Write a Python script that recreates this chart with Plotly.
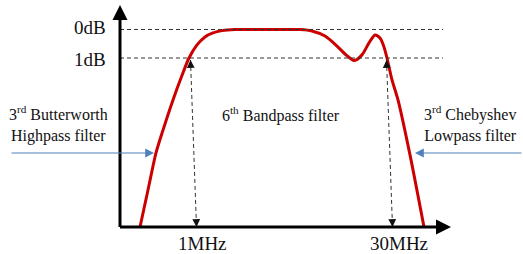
import plotly.graph_objects as go

# ---- data ----
curve_pos = [140, 148, 156, 163, 173, 181, 189, 197, 205, 213, 222, 235, 260, 285, 300,
             312, 325, 337, 346, 354, 362, 369, 375, 380, 384, 387, 392, 398, 410, 424]
curve_gain_db = [-6.93, -5.63, -4.33, -3.53, -2.47, -1.70, -1.00, -0.54, -0.26, -0.12, -0.04,
                 0.0, 0.0, 0.0, 0.0, -0.05, -0.23, -0.58, -0.89, -1.09, -0.89, -0.47, -0.19,
                 -0.30, -0.61, -1.00, -1.77, -2.47, -4.40, -6.93]
gain_levels = [0, -1]
gain_labels = ["0dB", "1dB"]
cutoff_pos = [190.5, 386.5]
freq_labels = ["1MHz", "30MHz"]
filter_labels = ["3<sup>rd</sup> Butterworth<br>Highpass filter",
                 "6<sup>th</sup> Bandpass filter",
                 "3<sup>rd</sup> Chebyshev<br>Lowpass filter"]

# ---- layout helpers ----
W, H = 523, 254
PX_PER_DB = 28.5
TOP_PX = 29.5  # pixel row of 0 dB
Y_MAX = TOP_PX / PX_PER_DB
Y_MIN = Y_MAX - H / PX_PER_DB


def yd(py):
    return -(py - TOP_PX) / PX_PER_DB


FLOOR = -6.93
AXIS_X = 120
FONT = "'Liberation Serif', 'Times New Roman', Times, serif"
TXT = "#111111"
BLUE = "rgb(79,129,189)"

fig = go.Figure()
fig.add_trace(go.Scatter(x=curve_pos, y=curve_gain_db, mode="lines",
                         line=dict(color="#cc0000", width=3, shape="spline", smoothing=0.7),
                         hoverinfo="skip", showlegend=False))

shapes = []
ann = []
label_rows = [27.5, 59.5]
# dashed level lines
for g, lab, row in zip(gain_levels, gain_labels, label_rows):
    shapes.append(dict(type="line", xref="x", yref="y", x0=AXIS_X, x1=443, y0=g, y1=g,
                       line=dict(color="#333333", width=1, dash="4px,3px")))
    ann.append(dict(x=108, y=yd(row), xref="x", yref="y",
                    text=lab, showarrow=False, xanchor="right", yanchor="middle",
                    font=dict(family=FONT, size=19, color=TXT)))

# dashed vertical double arrows at cutoffs
LEAN = 6
for cp, lab in zip(cutoff_pos, freq_labels):
    top_y = yd(60)
    shapes.append(dict(type="line", xref="x", yref="y", x0=cp, x1=cp + LEAN, y0=top_y, y1=FLOOR,
                       line=dict(color="#333333", width=1, dash="4px,3px")))
    ann.append(dict(x=cp, y=top_y, xref="x", yref="y", ax=0.3, ay=9, text="",
                    showarrow=True, arrowhead=2, arrowsize=1.3, arrowwidth=1.2, arrowcolor="#111"))
    ann.append(dict(x=cp + LEAN, y=FLOOR, xref="x", yref="y", ax=-0.3, ay=-9, text="",
                    showarrow=True, arrowhead=2, arrowsize=1.3, arrowwidth=1.2, arrowcolor="#111"))
    ann.append(dict(x=cp + LEAN + 6, y=yd(243.5), xref="x", yref="y", text=lab, showarrow=False,
                    xanchor="center", yanchor="middle", font=dict(family=FONT, size=19, color=TXT)))

# axes with arrows
ann.append(dict(x=AXIS_X, y=yd(5), xref="x", yref="y", ax=AXIS_X, ay=FLOOR - 0.05,
                axref="x", ayref="y", text="", showarrow=True, arrowhead=2, arrowsize=1,
                arrowwidth=3, arrowcolor="black"))
ann.append(dict(x=451, y=FLOOR, xref="x", yref="y", ax=AXIS_X - 1.5, ay=FLOOR,
                axref="x", ayref="y", text="", showarrow=True, arrowhead=2, arrowsize=1,
                arrowwidth=3, arrowcolor="black"))

# blue pointer arrows
ann.append(dict(x=154, y=yd(153), xref="x", yref="y", ax=10, ay=yd(153), axref="x", ayref="y",
                text="", showarrow=True, arrowhead=2, arrowsize=1.6, arrowwidth=1.1, arrowcolor=BLUE))
ann.append(dict(x=415, y=yd(153), xref="x", yref="y", ax=523, ay=yd(153), axref="x", ayref="y",
                text="", showarrow=True, arrowhead=2, arrowsize=1.6, arrowwidth=1.1, arrowcolor=BLUE))

# filter labels
for lab, (lx, ly) in zip(filter_labels, [(58, 124), (281, 114), (470, 124)]):
    ann.append(dict(x=lx, y=yd(ly), xref="x", yref="y", text=lab, showarrow=False,
                    xanchor="center", yanchor="middle", align="center",
                    font=dict(family=FONT, size=16, color=TXT)))

fig.update_layout(
    width=W, height=H, margin=dict(l=0, r=0, t=0, b=0),
    paper_bgcolor="white", plot_bgcolor="white",
    xaxis=dict(range=[0, W], visible=False, fixedrange=True),
    yaxis=dict(range=[Y_MIN, Y_MAX], visible=False, fixedrange=True),
    shapes=shapes, annotations=ann, showlegend=False,
)
fig.write_html("out.html", config={"displayModeBar": False},
               post_script="document.body.style.margin='0';document.body.style.padding='0';")
